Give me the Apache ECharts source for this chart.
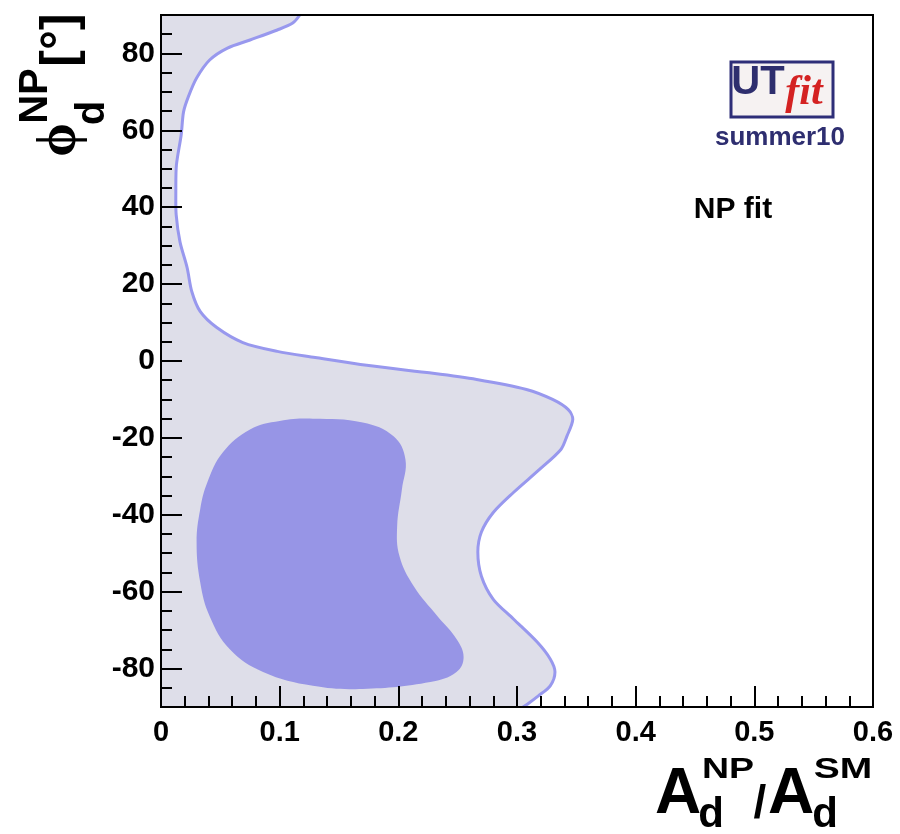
<!DOCTYPE html>
<html>
<head>
<meta charset="utf-8">
<script src="https://cdn.jsdelivr.net/npm/echarts@6/dist/echarts.min.js"></script>
<style>
  html, body { margin: 0; padding: 0; background: #fff; }
  #chart { width: 900px; height: 834px; }
</style>
</head>
<body>
<div id="chart"></div>
<script>
// 95% region boundary (phi from +90 down to -90), left side closes on the axis
const outerX = [0.117, 0.111, 0.098, 0.075, 0.056, 0.041, 0.030, 0.023, 0.019, 0.017,
  0.013, 0.0125, 0.0128, 0.016, 0.022, 0.026, 0.033, 0.047, 0.069, 0.098,
  0.130, 0.168, 0.224, 0.266, 0.308, 0.330, 0.343, 0.347, 0.342, 0.337,
  0.319, 0.297, 0.280, 0.270, 0.267, 0.270, 0.280, 0.297, 0.317, 0.328,
  0.332, 0.328, 0.318, 0.309, 0.305]
const outerY = [90, 87.9, 86.1, 83.5, 81.4, 78.3, 73.6, 68.7, 64.8, 58.8,
  51, 44, 38, 31, 24.3, 18, 12.9, 8.7, 4.8, 2.5,
  0.9, -0.9, -3, -4.8, -7.4, -10, -12.6, -15.2, -19.6, -23,
  -28.2, -34.2, -39.4, -44.5, -49.7, -56, -62, -67.1, -73.1, -77.5,
  -80.9, -84.5, -87.1, -89.2, -90]

// 68% region (closed blob)
const innerX = [0.128, 0.170, 0.196, 0.206, 0.203, 0.199, 0.201, 0.213, 0.233, 0.249,
  0.255, 0.249, 0.227, 0.170, 0.128, 0.086, 0.058, 0.041, 0.033, 0.030,
  0.033, 0.039, 0.052, 0.075, 0.100]
const innerY = [-15, -16, -19.6, -25.6, -33.4, -43, -50.8, -58.6, -66.4, -72.3,
  -77, -80.9, -83.5, -85.3, -84.5, -80.9, -75, -66.4, -57.5, -47.1,
  -38.6, -31.6, -23.8, -17.8, -15.6]

const yMajorTicks = [-80, -60, -40, -20, 0, 20, 40, 60, 80]
const yMinorTicks = []
for (let v = -85; v <= 85; v += 5) if (v % 20 !== 0) yMinorTicks.push(v)

const FONT = '"Liberation Sans", Arial, Helvetica, sans-serif'
const outerFill = '#dedee9'
const outerLine = '#9898ee'
const innerFill = '#9795e6'

const chart = echarts.init(document.getElementById('chart'))

function pts(xs, ys, api) {
  return xs.map((x, i) => api.coord([x, ys[i]]))
}

function text(str, x, y, size, opts) {
  return Object.assign({
    type: 'text',
    x: x,
    y: y,
    style: Object.assign({
      text: str,
      font: 'bold ' + size + 'px ' + FONT,
      fill: '#000',
      align: 'center',
      verticalAlign: 'middle'
    }, (opts && opts.style) || {})
  }, (opts && opts.el) || {})
}

chart.setOption({
  animation: false,
  grid: {
    left: 161, right: 27, top: 15, bottom: 127, z: 10,
    show: true, borderColor: '#000', borderWidth: 2, backgroundColor: 'transparent'
  },
  xAxis: {
    type: 'value', min: 0, max: 0.6, interval: 0.1, z: 10,
    axisLine: { onZero: false, lineStyle: { color: '#000', width: 2 } },
    axisTick: { inside: true, length: 21, lineStyle: { color: '#000', width: 2 } },
    minorTick: { show: true, splitNumber: 5, length: 11, lineStyle: { color: '#000', width: 2 } },
    splitLine: { show: false },
    axisLabel: { color: '#000', fontFamily: FONT, fontWeight: 'bold', fontSize: 29, margin: 11 }
  },
  yAxis: [
    {
      type: 'value', min: -90, max: 90, z: 10,
      axisLine: { onZero: false, lineStyle: { color: '#000', width: 2 } },
      axisTick: { inside: true, length: 21, customValues: yMajorTicks, lineStyle: { color: '#000', width: 2 } },
      splitLine: { show: false },
      axisLabel: { customValues: yMajorTicks, color: '#000', fontFamily: FONT, fontWeight: 'bold', fontSize: 30, margin: 6 }
    },
    {
      type: 'value', min: -90, max: 90, position: 'left', z: 10,
      axisLine: { show: false, onZero: false },
      axisTick: { inside: true, length: 11, customValues: yMinorTicks, lineStyle: { color: '#000', width: 2 } },
      splitLine: { show: false },
      axisLabel: { show: false }
    }
  ],
  series: [
    {
      type: 'custom', clip: true,
      data: [0],
      renderItem: (params, api) => {
        const p = pts(outerX, outerY, api)
        p.push(api.coord([0, -90]), api.coord([0, 90]))
        return { type: 'polygon', shape: { points: p }, style: { fill: outerFill } }
      }
    },
    {
      type: 'custom', clip: true,
      data: [0],
      renderItem: (params, api) => ({
        type: 'polyline',
        shape: { points: pts(outerX, outerY, api), smooth: 0.3 },
        style: { stroke: outerLine, lineWidth: 3, fill: null }
      })
    },
    {
      type: 'custom', clip: true,
      data: [0],
      renderItem: (params, api) => ({
        type: 'polygon',
        shape: { points: pts(innerX, innerY, api), smooth: 0.4 },
        style: { fill: innerFill }
      })
    }
  ],
  graphic: [
    // x axis title
    text('A', 678, 795, 64),
    text('NP', 728, 770, 30, { el: { scaleX: 1.25 } }),
    text('d', 711, 815, 42),
    text('/', 760, 805, 46),
    text('A', 791, 795, 64),
    text('SM', 843, 770, 30, { el: { scaleX: 1.3 } }),
    text('d', 825, 815, 42),
    // y axis title (rotated)
    text('\u03d5', 61, 140, 54, { el: { rotation: Math.PI / 2 }, style: { font: 'bold 54px "Liberation Serif", "DejaVu Serif", serif' } }),
    text('NP', 36, 96, 40, { el: { rotation: Math.PI / 2 } }),
    text('d', 93, 113, 40, { el: { rotation: Math.PI / 2 } }),
    text('[\u00b0]', 61, 40, 50, { el: { rotation: Math.PI / 2 } }),
    // UTfit logo
    {
      type: 'rect',
      shape: { x: 731, y: 62, width: 102, height: 55 },
      style: { fill: '#f6f2f2', stroke: '#2e2e78', lineWidth: 3 },
      z: 10
    },
    text('UT', 758, 83, 40, { style: { fill: '#2e2e6e' }, el: { z: 11 } }),
    text('fit', 804, 93, 42, { style: { fill: '#d42222', font: 'italic bold 42px "Liberation Serif", "DejaVu Serif", serif' }, el: { z: 11 } }),
    text('summer10', 780, 138, 26, { style: { fill: '#2e2e70' } }),
    text('NP fit', 733, 210, 30)
  ]
})
</script>
</body>
</html>
